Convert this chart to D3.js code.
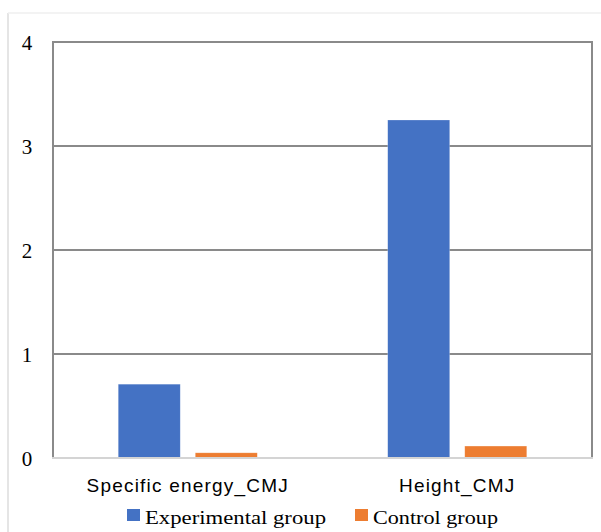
<!DOCTYPE html>
<html>
<head>
<meta charset="utf-8">
<script src="https://cdn.jsdelivr.net/npm/d3@7"></script>
<style>
  html, body { margin: 0; padding: 0; background: #fff; }
  svg { display: block; }
</style>
</head>
<body>
<svg id="chart" width="601" height="532"></svg>
<script>
// Chart data
const categories = ["Specific energy_CMJ", "Height_CMJ"];
const seriesNames = ["Experimental group", "Control group"];
const experimental = [0.71, 3.25];
const control = [0.05, 0.115];
const yTicks = [0, 1, 2, 3, 4];
const seriesColors = ["#4472C4", "#ED7D31"];

const values = [experimental, control];
const rows = categories.map((c, i) => ({
  category: c,
  bars: seriesNames.map((s, j) => ({ series: s, value: values[j][i], color: seriesColors[j] }))
}));

const svg = d3.select("#chart");
const plot = { left: 53, right: 592, top: 42, bottom: 458 };

// Faint frame around the chart
svg.append("line").attr("x1", 8).attr("x2", 8).attr("y1", 13).attr("y2", 532)
  .attr("stroke", "#dcdcdc").attr("stroke-width", 1.5);
svg.append("line").attr("x1", 8).attr("x2", 601).attr("y1", 13).attr("y2", 13)
  .attr("stroke", "#efefef").attr("stroke-width", 1.5);

const y = d3.scaleLinear().domain([0, 4]).range([plot.bottom, plot.top]);
const x0 = d3.scaleBand().domain(categories).range([plot.left, plot.right])
  .paddingInner(0.484).paddingOuter(0.242);
const x1 = d3.scaleBand().domain(seriesNames).range([0, x0.bandwidth()])
  .paddingInner(0.195).paddingOuter(0);

// Horizontal gridlines
svg.append("g").selectAll("line").data(yTicks.filter(t => t > 0)).join("line")
  .attr("x1", plot.left).attr("x2", plot.right)
  .attr("y1", d => y(d)).attr("y2", d => y(d))
  .attr("stroke", "#8a8a8a").attr("stroke-width", 2);

// Left and right frame of the plot area
svg.append("line").attr("x1", plot.left).attr("x2", plot.left)
  .attr("y1", plot.top - 1).attr("y2", plot.bottom)
  .attr("stroke", "#8a8a8a").attr("stroke-width", 2);
svg.append("line").attr("x1", plot.right).attr("x2", plot.right)
  .attr("y1", plot.top - 1).attr("y2", plot.bottom)
  .attr("stroke", "#8a8a8a").attr("stroke-width", 2);

// Bars
const groups = svg.append("g").selectAll("g").data(rows).join("g")
  .attr("transform", d => `translate(${x0(d.category)},0)`);
groups.selectAll("rect").data(d => d.bars).join("rect")
  .attr("x", d => x1(d.series))
  .attr("width", x1.bandwidth())
  .attr("y", d => y(d.value))
  .attr("height", d => y(0) - y(d.value))
  .attr("fill", d => d.color)
  .attr("stroke", "#ffffff").attr("stroke-opacity", 0.4).attr("stroke-width", 0.6);

// Baseline axis
svg.append("line").attr("x1", plot.left - 1).attr("x2", plot.right + 1)
  .attr("y1", y(0)).attr("y2", y(0))
  .attr("stroke", "#d4d4d4").attr("stroke-width", 2);

// Y tick labels
svg.append("g").selectAll("text").data(yTicks).join("text")
  .attr("x", 27).attr("y", d => y(d) + 1)
  .attr("text-anchor", "middle").attr("dominant-baseline", "central")
  .attr("font-family", "'Liberation Serif', 'DejaVu Serif', serif")
  .attr("font-size", 21).attr("fill", "#000")
  .text(d => d);

// Category labels
svg.append("g").selectAll("text").data(categories).join("text")
  .attr("x", d => x0(d) + x0.bandwidth() / 2)
  .attr("y", 492)
  .attr("text-anchor", "middle")
  .attr("font-family", "'Liberation Sans', Arial, sans-serif")
  .attr("font-size", 19).attr("letter-spacing", 1.2).attr("fill", "#000")
  .text(d => d);

// Legend
const legendX = [127, 355];
const legendW = [181, 125];
const legend = svg.append("g").selectAll("g").data(seriesNames).join("g")
  .attr("transform", (d, i) => `translate(${legendX[i]},509)`);
legend.append("rect").attr("width", 13).attr("height", 12)
  .attr("fill", (d, i) => seriesColors[i]);
legend.append("text")
  .attr("x", 18).attr("y", 15)
  .attr("font-family", "'Liberation Serif', 'DejaVu Serif', serif")
  .attr("font-size", 19).attr("fill", "#000")
  .attr("textLength", (d, i) => legendW[i]).attr("lengthAdjust", "spacingAndGlyphs")
  .text(d => d);
</script>
</body>
</html>
